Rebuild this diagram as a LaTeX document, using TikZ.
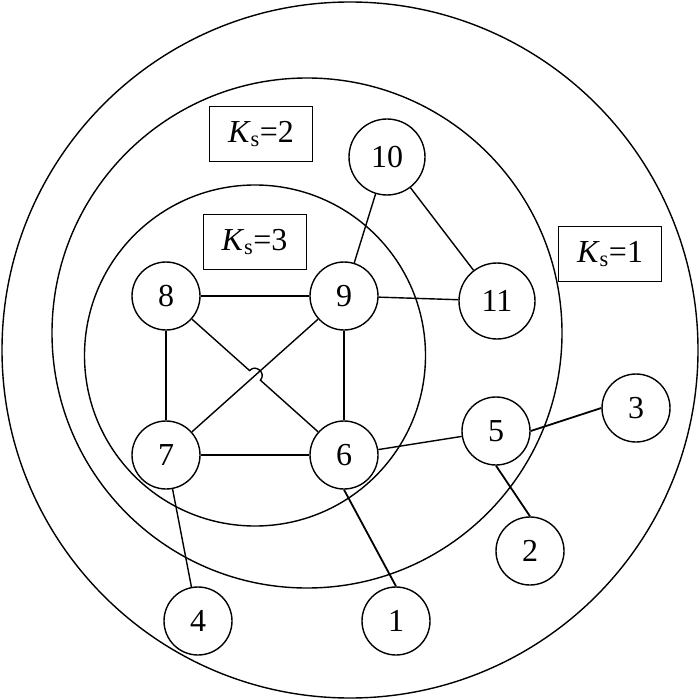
\documentclass[tikz,border=0pt]{standalone}
\usepackage{fontspec}
\setmainfont{Liberation Serif}
\begin{document}
\begin{tikzpicture}[x=1pt,y=-1pt,
  vtx/.style={circle,draw,line width=1.4pt,minimum size=68pt,inner sep=0pt,font=\fontsize{32}{32}\selectfont},
  bigvtx/.style={vtx,minimum size=76pt},
  ring/.style={draw,line width=1.4pt},
  edge/.style={line width=1.4pt},
  thick edge/.style={line width=1.8pt},
  kbox/.style={draw,line width=1pt,minimum width=103pt,minimum height=55pt,inner sep=0pt,font=\fontsize{32}{32}\selectfont}]
\useasboundingbox (0,0) rectangle (700,700);
% rings
\draw[ring] (350,350) circle[radius=348];
\draw[ring] (307,333) circle[radius=255];
\draw[ring] (255,355.5) circle[radius=170.5];
% labels
\node[kbox] (k2) at (261,134) {\textit{K}\textsubscript{s}=2};
\node[kbox] (k3) at (254.5,242) {\textit{K}\textsubscript{s}=3};
\node[kbox] (k1) at (610,254) {\textit{K}\textsubscript{s}=1};
% vertices
\node[bigvtx] (n10) at (387,157) {10};
\node[bigvtx] (n11) at (497,301) {11};
\node[vtx] (n8) at (166,296) {8};
\node[vtx] (n9) at (344,296) {9};
\node[vtx] (n7) at (166,455) {7};
\node[vtx] (n6) at (344,455) {6};
\node[vtx] (n5) at (496,431) {5};
\node[vtx] (n3) at (636,408) {3};
\node[vtx] (n2) at (530,551) {2};
\node[vtx] (n4) at (198,621) {4};
\node[vtx] (n1) at (396,621) {1};
% hop coordinates
\coordinate (hA) at (249.6,370.6);
\coordinate (hB) at (260.4,380.2);
\coordinate (hC1) at (255.8,363.6);
\coordinate (hC2) at (266.6,373.2);
% edges
\draw[edge] (n10) -- (n9);
\draw[edge] (n10) -- (n11);
\draw[edge] (n9) -- (n11);
\draw[edge] (n8) -- (n9);
\draw[edge] (n8) -- (n7);
\draw[edge] (n9) -- (n6);
\draw[edge] (n7) -- (n6);
\draw[edge] (n9) -- (n7);
\draw[edge] (n8) -- (hA) .. controls (hC1) and (hC2) .. (hB) -- (n6);
\draw[edge] (n6) -- (n5);
\draw[edge] (n7) -- (n4);
\draw[thick edge] (n6.south) -- (n1.north);
\draw[thick edge] (n5.east) -- (n3.west);
\draw[thick edge] (n5.south) -- (n2.north);
\end{tikzpicture}
\end{document}
